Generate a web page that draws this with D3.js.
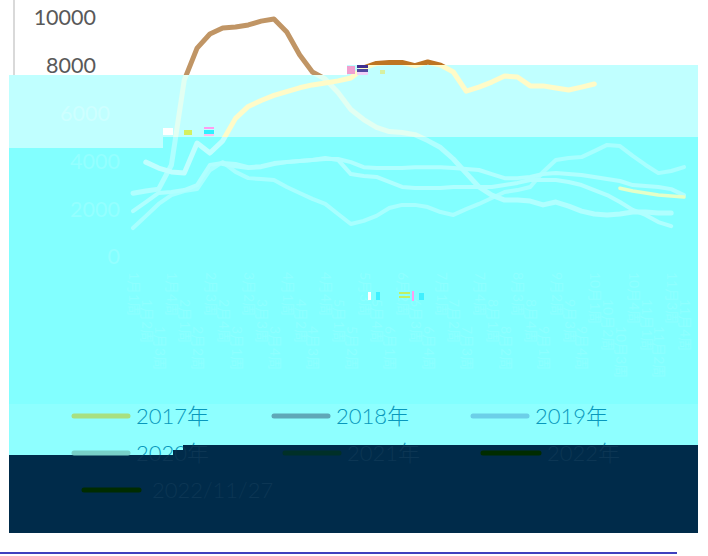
<!DOCTYPE html>
<html>
<head>
<meta charset="utf-8">
<script src="https://cdn.jsdelivr.net/npm/d3@7"></script>
<style>
  html, body { margin: 0; padding: 0; background: #fff; }
  svg { display: block; }
  text { font-family: Lato, "Noto Sans CJK SC", sans-serif; }
</style>
</head>
<body>
<svg id="chart" width="708" height="556"></svg>
<script>
// values, one entry per week, null = no line there
const weeks = ['1月1周','1月2周','1月3周','1月4周','2月1周','2月2周','2月3周','2月4周','3月1周','3月2周','3月3周','3月4周','4月1周','4月2周','4月3周','4月4周','5月1周','5月2周','5月3周','5月4周','6月1周','6月2周','6月3周','6月4周','7月1周','7月2周','7月3周','7月4周','8月1周','8月2周','8月3周','8月4周','9月1周','9月2周','9月3周','9月4周','10月1周','10月2周','10月3周','10月4周','11月1周','11月2周','11月3周','11月4周'];
const yTicks = [0, 2000, 4000, 6000, 8000, 10000];

const s2017 = [1210,1710,2220,2590,2760,2840,3630,3970,3560,3300,3260,3220,2930,2680,2430,2220,1800,1380,1510,1720,2050,2180,2180,2090,1880,1760,2000,2220,2470,2720,2800,2930,3560,4060,4140,4180,4430,4690,4640,4230,3850,3510,3600,3760];
const s2018 = [1920,2300,2680,2720,2800,3010,3850,3930,3890,3760,3800,3930,3970,4020,4060,4100,4100,3970,3760,3720,3720,3720,3760,3760,3760,3720,3680,3640,3470,3300,3300,3350,3470,3510,3470,3430,3350,3260,3180,3010,2970,2930,2840,2590];
const s2019 = [null,null,null,null,null,null,null,3890,3800,3720,3760,3890,3970,4020,4060,4140,4060,3470,3390,3350,3140,2930,2890,2890,2890,2930,2930,2930,2930,3010,3100,3220,3220,3220,3140,3010,2800,2590,2300,1970,1760,1460,1290,null];
const s2020 = [];
const s2021 = [2670,2760,2840,3850,7400,8740,9330,9580,9620,9710,9870,9960,9410,8460,7740,7450,6880,6170,5750,5420,5250,5210,5120,4870,4580,4100,3510,2930,2590,2380,2380,2340,2180,2300,2130,1920,1800,1760,1800,1880,1880,1840,1840,null];
const s2022 = [null,3970,3720,3560,3510,4770,4350,4860,5800,6300,6550,6760,6920,7080,7200,7280,7370,7490,7910,8100,8140,8140,8010,8160,8030,7740,6940,7110,7320,7570,7530,7160,7160,7070,6990,7110,7240,null,null,null,null,null,null,null];
const sDate = [null,null,null,null,null,null,null,null,null,null,null,null,null,null,null,null,null,null,null,null,null,null,null,null,null,null,null,null,null,null,null,null,null,null,null,null,null,null,2880,2760,2680,2590,2550,2510];

const seriesNames = ['2017年','2018年','2019年','2020年','2021年','2022年','2022/11/27'];
const seriesValues = [s2017, s2018, s2019, s2020, s2021, s2022, sDate];

const svg = d3.select('#chart');
const xScale = d3.scalePoint().domain(weeks).range([133, 684]);
const yScale = d3.scaleLinear().domain([0, 10000]).range([257, 18]);

const lineGen = d3.line()
  .defined(d => d.v !== null)
  .x(d => xScale(d.w))
  .y(d => yScale(d.v));

// legend slots
const legendPos = [
  { x: 74,  y: 416, len: 54 }, { x: 274, y: 416, len: 54 }, { x: 473, y: 416, len: 54 },
  { x: 74,  y: 453, len: 54 }, { x: 285, y: 453, len: 54 }, { x: 483, y: 453, len: 56 },
  { x: 84,  y: 490, len: 55 }
];

// ── the same chart is drawn once per band, each band with its own colours ──
// only the texts that fall inside a band are written into it
function drawChart(g, pal, top, bottom) {
  g.append('line').attr('x1', 14).attr('x2', 14).attr('y1', 0).attr('y2', 257)
    .attr('stroke', pal.axis).attr('stroke-width', 2);

  const axis = g.append('g').attr('transform', `translate(${pal.tickX},0)`)
    .call(d3.axisLeft(yScale)
      .tickValues(yTicks.filter(t => yScale(t) >= top && yScale(t) < bottom))
      .tickSize(0).tickFormat(d3.format('d')));
  axis.select('.domain').remove();
  axis.selectAll('text').attr('fill', pal.tick).style('font-size', '21.5px')
    .style('font-family', 'Lato, sans-serif').attr('x', 0);

  if (pal.xLabel) {
    g.append('g').selectAll('text').data(weeks).join('text')
      .attr('transform', (d, i) => `translate(${xScale(d) - 4},${272 + (i % 3) * 27}) rotate(90)`)
      .attr('fill', pal.xLabel).style('font-size', '14px')
      .text(d => d);
  }

  const lines = g.append('g').attr('filter', 'url(#soft)');
  seriesValues.forEach((vals, i) => {
    if (!vals.length) return;
    lines.append('path')
      .datum(vals.map((v, k) => ({ w: weeks[k], v })))
      .attr('d', lineGen)
      .attr('fill', 'none')
      .attr('stroke', pal.lines[i])
      .attr('stroke-width', i === 6 ? 3.5 : (i >= 4 ? 5 : 4))
      .attr('stroke-linecap', 'round')
      .attr('stroke-linejoin', 'round');
  });

  seriesNames.forEach((name, i) => {
    const p = legendPos[i];
    g.append('line')
      .attr('x1', p.x).attr('x2', p.x + p.len).attr('y1', p.y).attr('y2', p.y)
      .attr('stroke', legendColors[i]).attr('stroke-width', 5).attr('stroke-linecap', 'round');
    if (p.y + 10 < top || p.y - 12 > bottom) return;
    g.append('text')
      .attr('x', p.x + p.len + (i === 6 ? 13 : 8)).attr('y', p.y + 8)
      .attr('fill', pal.legendText).style('font-size', '22px').style('font-weight', 300)
      .text(name);
  });
}

const legendColors = ['#A8E080', '#5FA8B8', '#6CCFE8', '#78D0C8', '#003028', '#002C00', '#002C00'];

const bands = [
  { // plain page
    area: [[0,0],[708,0],[708,556],[0,556]], fill: '#fff', top: 0, bottom: 75,
    pal: { axis: '#d9d9d9', tick: '#595959', tickX: 96, legendText: '#595959',
      lines: ['#5FA8B8','#5FA8B8','#6CCFE8','#78D0C8','#C09565','#BE7424','#D0E080'] }
  },
  { // light cyan
    area: [[9,75],[347,75],[347,65],[698,65],[698,137],[163,137],[163,148],[9,148]], fill: '#C0FFFF', top: 75, bottom: 137,
    pal: { axis: '#C0FFFF', tick: '#CEFFFF', tickX: 110, legendText: '#C0FFFF',
      lines: ['#D8FFFF','#D8FFFF','#D8FFFF','#D8FFFF','#E2FFF2','#FFFBC8','#FFFBC8'] }
  },
  { // cyan
    area: [[9,148],[163,148],[163,137],[698,137],[698,404],[9,404]], fill: '#82FFFF', top: 137, bottom: 390,
    pal: { axis: '#82FFFF', tick: '#94FFFF', tickX: 120, xLabel: '#8EFFFF', legendText: '#82FFFF',
      lines: ['#A8FFFF','#B0FFFF','#B0FFFF','#B0FFFF','#B0FFFF','#C0FFFF','#E4FFC8'] }
  },
  { // cyan around the legend, coloured keys still show
    area: [[9,404],[698,404],[698,445],[183,445],[183,450],[173,450],[173,455],[9,455]], fill: '#8EFFFF', top: 404, bottom: 455,
    pal: { axis: '#8EFFFF', tick: '#8EFFFF', tickX: 96, legendText: '#0898BC', lines: legendColors }
  },
  { // dark
    area: [[9,455],[173,455],[173,450],[183,450],[183,445],[698,445],[698,533],[9,533]], fill: '#002B4A', top: 445, bottom: 533,
    pal: { axis: '#002B4A', tick: '#002B4A', tickX: 96, legendText: '#0C3654', lines: legendColors }
  }
];

const defs = svg.append('defs');
defs.append('filter').attr('id', 'soft').append('feGaussianBlur').attr('stdDeviation', 0.6);
bands.forEach((b, i) => {
  defs.append('clipPath').attr('id', 'band-' + i)
    .append('polygon').attr('points', b.area.map(p => p.join(',')).join(' '));
  const g = svg.append('g').attr('clip-path', `url(#band-${i})`);
  g.append('rect').attr('width', 708).attr('height', 556).attr('fill', b.fill);
  drawChart(g, b.pal, b.top, b.bottom);
});

// small broken blocks in the source picture
const specks = [
  [163,128,10,7,'#FFFFFF'],[184,130,8,5,'#D4F060'],[204,127,10,2,'#FF9CF0'],[204,130,10,4,'#30F0FF'],[204,134,10,2,'#FFC0F0'],
  [347,66,8,8,'#F0A0D0'],[357,65,11,3,'#403090'],[357,69,11,3,'#5048A0'],[357,72,11,3,'#F0D0F8'],[380,70,5,4,'#D8F0A0'],
  [368,292,3,8,'#FFFFFF'],[376,292,4,8,'#40F0FF'],[399,292,11,2,'#C0F060'],[399,296,11,2,'#C0F060'],[412,291,2,10,'#FF9CF0'],[419,293,5,7,'#40F0FF']
];
svg.append('g').selectAll('rect').data(specks).join('rect')
  .attr('x', d => d[0]).attr('y', d => d[1]).attr('width', d => d[2]).attr('height', d => d[3]).attr('fill', d => d[4]);

// rule at the very bottom
svg.append('line').attr('x1', 0).attr('x2', 677).attr('y1', 553).attr('y2', 553)
  .attr('stroke', '#0000A8').attr('stroke-width', 1.5);
</script>
</body>
</html>
